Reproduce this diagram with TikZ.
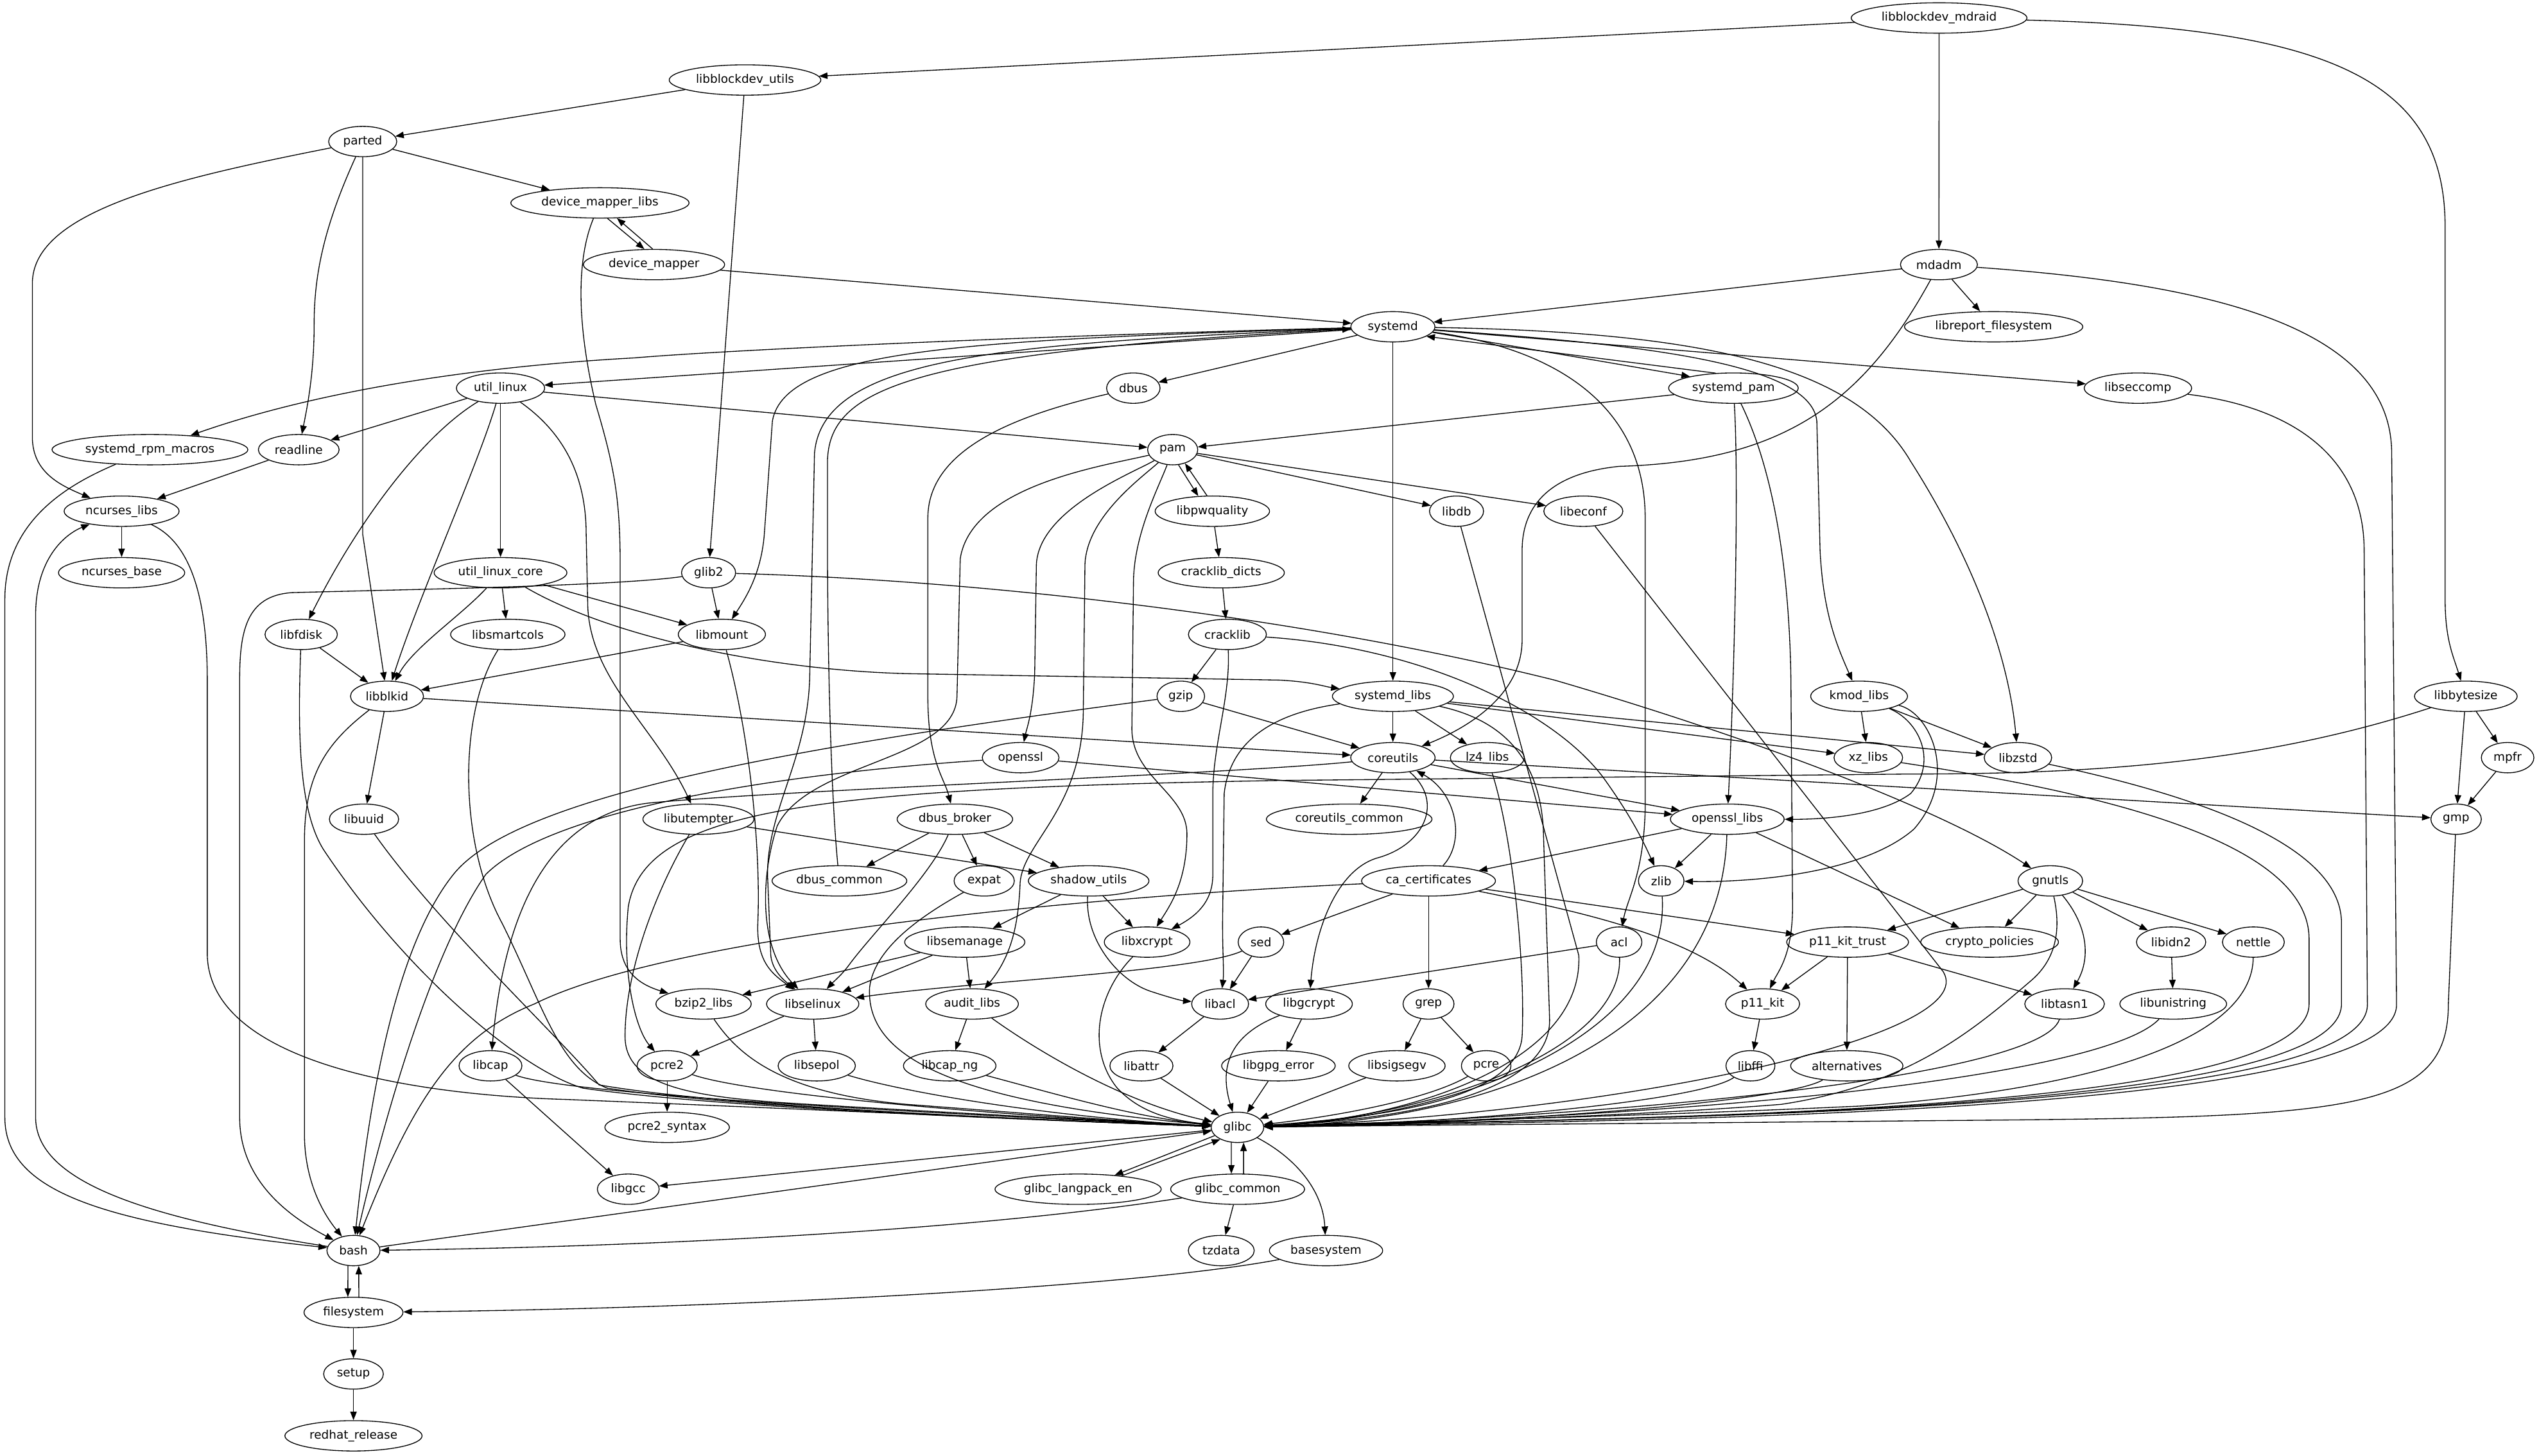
\documentclass[tikz,border=0pt]{standalone}
\usepackage{fontspec}
\setmainfont{DejaVu Sans}
\usetikzlibrary{arrows.meta,shapes.geometric}
\newcommand{\gvf}{\fontsize{6.24pt}{7.5pt}\selectfont}
\begin{document}
\begin{tikzpicture}[x=0.03cm,y=-0.03cm,
  gvn/.style={draw,ellipse,line width=0.45pt,inner xsep=2.4pt,inner ysep=0pt,minimum height=16pt,minimum width=24pt,font=\gvf},
  gve/.style={draw,line width=0.45pt,-{Triangle[length=4.5pt,width=3.4pt]}}]
\useasboundingbox (0,0) rectangle (1568,899);
% nodes
\node[gvn] (mdraid) at (1197.5,11.1) {libblockdev\_mdraid};
\node[gvn] (bdutils) at (460.1,49.4) {libblockdev\_utils};
\node[gvn] (parted) at (224,87.4) {parted};
\node[gvn] (dml) at (370.5,125.3) {device\_mapper\_libs};
\node[gvn] (dm) at (403.9,163.4) {device\_mapper};
\node[gvn] (mdadm) at (1197.4,163.4) {mdadm};
\node[gvn] (libreport) at (1231.2,201.8) {libreport\_filesystem};
\node[gvn] (systemd) at (860.2,201.8) {systemd};
\node[gvn] (utillinux) at (309.1,239.7) {util\_linux};
\node[gvn] (dbus) at (699.9,239.7) {dbus};
\node[gvn] (systemdpam) at (1070.5,239.7) {systemd\_pam};
\node[gvn] (libseccomp) at (1320.3,239.7) {libseccomp};
\node[gvn] (rpmmacros) at (92.6,277.7) {systemd\_rpm\_macros};
\node[gvn] (readline) at (184.5,277.7) {readline};
\node[gvn] (pam) at (724.2,277.7) {pam};
\node[gvn] (ncursesl) at (75.1,315.7) {ncurses\_libs};
\node[gvn] (libpwq) at (748.7,315.7) {libpwquality};
\node[gvn] (libdb) at (899.5,315.7) {libdb};
\node[gvn] (libeconf) at (977.8,315.7) {libeconf};
\node[gvn] (ncursesb) at (75.1,353.7) {ncurses\_base};
\node[gvn] (ulcore) at (309.1,353.7) {util\_linux\_core};
\node[gvn] (glib2) at (437.6,353.7) {glib2};
\node[gvn] (crackd) at (754.2,353.7) {cracklib\_dicts};
\node[gvn] (libfdisk) at (186,391.8) {libfdisk};
\node[gvn] (libsmartcols) at (313.6,391.8) {libsmartcols};
\node[gvn] (libmount) at (445.8,391.8) {libmount};
\node[gvn] (cracklib) at (758,391.8) {cracklib};
\node[gvn] (libblkid) at (239,430) {libblkid};
\node[gvn] (gzip) at (729.2,430) {gzip};
\node[gvn] (systemdlibs) at (860.2,430) {systemd\_libs};
\node[gvn] (kmod) at (1148.1,430) {kmod\_libs};
\node[gvn] (libbytesize) at (1522.8,430) {libbytesize};
\node[gvn] (openssl) at (630.3,467.9) {openssl};
\node[gvn] (coreutils) at (860.2,467.9) {coreutils};
\node[gvn] (lz4) at (918.5,467.9) {lz4\_libs};
\node[gvn] (xz) at (1153.8,467.9) {xz\_libs};
\node[gvn] (libzstd) at (1246.2,467.9) {libzstd};
\node[gvn] (mpfr) at (1548.6,467.9) {mpfr};
\node[gvn] (libuuid) at (224.8,505.9) {libuuid};
\node[gvn] (libutempter) at (431.3,505.9) {libutempter};
\node[gvn] (dbusbroker) at (589.7,505.9) {dbus\_broker};
\node[gvn] (cucommon) at (833.2,505.9) {coreutils\_common};
\node[gvn] (ossllibs) at (1066.7,505.9) {openssl\_libs};
\node[gvn] (gmp) at (1516.8,505.9) {gmp};
\node[gvn] (dbuscommon) at (518.4,544) {dbus\_common};
\node[gvn] (expat) at (607.8,544) {expat};
\node[gvn] (shadow) at (672.3,544) {shadow\_utils};
\node[gvn] (cacerts) at (882.2,544) {ca\_certificates};
\node[gvn] (zlib) at (1025.9,544) {zlib};
\node[gvn] (gnutls) at (1266.2,544) {gnutls};
\node[gvn] (libsemanage) at (595.8,581.8) {libsemanage};
\node[gvn] (libxcrypt) at (708.4,581.8) {libxcrypt};
\node[gvn] (sed) at (778.7,581.8) {sed};
\node[gvn] (acl) at (999.9,581.8) {acl};
\node[gvn] (p11trust) at (1141,581.8) {p11\_kit\_trust};
\node[gvn] (cryptopol) at (1228.7,581.8) {crypto\_policies};
\node[gvn] (libidn2) at (1340.8,581.8) {libidn2};
\node[gvn] (nettle) at (1391.6,581.8) {nettle};
\node[gvn] (bzip2) at (434.5,620) {bzip2\_libs};
\node[gvn] (libselinux) at (501.9,620) {libselinux};
\node[gvn] (audit) at (600.3,620) {audit\_libs};
\node[gvn] (libacl) at (753.5,620) {libacl};
\node[gvn] (libgcrypt) at (808.4,620) {libgcrypt};
\node[gvn] (grep) at (882.2,620) {grep};
\node[gvn] (p11kit) at (1088.5,620) {p11\_kit};
\node[gvn] (libtasn1) at (1275,620) {libtasn1};
\node[gvn] (libunistring) at (1342.1,620) {libunistring};
\node[gvn] (libcap) at (302.9,658.2) {libcap};
\node[gvn] (pcre2) at (412,658.2) {pcre2};
\node[gvn] (libsepol) at (504.4,658.2) {libsepol};
\node[gvn] (libcapng) at (586.5,658.2) {libcap\_ng};
\node[gvn] (libattr) at (704.9,658.2) {libattr};
\node[gvn] (libgpgerr) at (789.5,658.2) {libgpg\_error};
\node[gvn] (libsigsegv) at (862.7,658.2) {libsigsegv};
\node[gvn] (pcre) at (917.8,658.2) {pcre};
\node[gvn] (libffi) at (1081,658.2) {libffi};
\node[gvn] (alternatives) at (1140.5,658.2) {alternatives};
\node[gvn] (pcre2syn) at (412,696.2) {pcre2\_syntax};
\node[gvn] (glibc) at (764.2,696.2) {glibc};
\node[gvn] (libgcc) at (388,734.4) {libgcc};
\node[gvn] (langpack) at (665.8,734.4) {glibc\_langpack\_en};
\node[gvn] (glibccommon) at (764.3,734.4) {glibc\_common};
\node[gvn] (bash) at (218.3,772.3) {bash};
\node[gvn] (tzdata) at (754.2,772.3) {tzdata};
\node[gvn] (basesystem) at (818.9,772.3) {basesystem};
\node[gvn] (filesystem) at (218.3,810.5) {filesystem};
\node[gvn] (setup) at (218.3,848.5) {setup};
\node[gvn] (redhat) at (218.3,886.7) {redhat\_release};
% edges: top
\draw[gve] (mdraid) -- (bdutils);
\draw[gve] (mdraid) -- (mdadm);
\draw[gve] (mdraid) .. controls (1440,17) and (1510,50) .. (1510,140) -- (1510,370) .. controls (1510,395) and (1515,405) .. (libbytesize);
\draw[gve] (bdutils) -- (parted);
\draw[gve] (bdutils) -- (glib2);
\draw[gve] (parted) -- (dml);
\draw[gve] (parted) .. controls (200,140) and (194,170) .. (194,200) .. controls (194,230) and (190,250) .. (readline);
\draw[gve] (parted) -- (224,330) -- (libblkid);
\draw[gve] (parted) .. controls (110,110) and (20,130) .. (20,175) -- (20,270) .. controls (20,292) and (38,300) .. (ncursesl);
\draw[gve] (dml.-64) -- (dm.122);
\draw[gve] (dm.95) -- (dml.-42);
\draw[gve] (dml) .. controls (356,160) and (356,200) .. (368,250) .. controls (380,290) and (383,310) .. (383,350) -- (383,580) .. controls (383,600) and (395,608) .. (bzip2);
\draw[gve] (dm) -- (systemd);
\draw[gve] (mdadm) -- (systemd);
\draw[gve] (mdadm) -- (libreport);
\draw[gve] (mdadm) .. controls (1360,175) and (1477,200) .. (1477,280) -- (1480,620) .. controls (1482,690) and (1000,692) .. (glibc);
\draw[gve] (mdadm) .. controls (1150,250) and (1100,285) .. (1000,288) .. controls (960,292) and (940,310) .. (940,340) -- (940,395) .. controls (940,430) and (905,450) .. (coreutils);
% systemd
\draw[gve] (systemd) .. controls (650,207) and (450,216) .. (392,221) .. controls (300,226) and (200,240) .. (rpmmacros);
\draw[gve] (systemd) -- (utillinux);
\draw[gve] (systemd) -- (dbus);
\draw[gve] (systemd.-8) -- (systemdpam.165);
\draw[gve] (systemdpam.140) -- (systemd.-16);
\draw[gve] (systemd) -- (libseccomp);
\draw[gve] (systemd) -- (systemdlibs);
\draw[gve] (systemd) .. controls (960,215) and (1016,250) .. (1016,320) -- (1016,500) .. controls (1015,540) and (1005,555) .. (acl);
\draw[gve] (systemd) .. controls (1000,212) and (1118,222) .. (1122,260) -- (1124,340) .. controls (1126,380) and (1135,400) .. (kmod);
\draw[gve] (systemd) .. controls (1050,205) and (1145,225) .. (1180,285) .. controls (1215,340) and (1240,400) .. (libzstd);
\draw[gve] (systemd) .. controls (600,210) and (485,215) .. (477,260) -- (472,330) .. controls (470,355) and (460,370) .. (libmount);
\draw[gve] (systemd) .. controls (620,212) and (508,220) .. (503,280) -- (500,420) .. controls (498,470) and (474,500) .. (474,540) -- (476,590) .. controls (477,600) and (485,606) .. (libselinux);
\draw[gve] (dbuscommon) .. controls (513,490) and (511,400) .. (511,330) -- (511,285) .. controls (512,240) and (560,218) .. (systemd);
% util_linux
\draw[gve] (utillinux) -- (readline);
\draw[gve] (utillinux) -- (pam);
\draw[gve] (utillinux) .. controls (262,268) and (222,320) .. (libfdisk);
\draw[gve] (utillinux) .. controls (296,285) and (258,370) .. (libblkid);
\draw[gve] (utillinux) -- (ulcore);
\draw[gve] (utillinux) .. controls (345,265) and (362,290) .. (362,330) -- (363,375) .. controls (365,420) and (405,450) .. (libutempter);
% left column
\draw[gve] (rpmmacros) .. controls (45,298) and (3,320) .. (3,370) -- (3,690) .. controls (3,735) and (60,755) .. (bash);
\draw[gve] (readline) -- (ncursesl);
\draw[gve] (ncursesl) -- (ncursesb);
\draw[gve] (bash) .. controls (90,752) and (22,730) .. (22,690) -- (22,380) .. controls (22,345) and (40,330) .. (ncursesl);
\draw[gve] (ncursesl) .. controls (118,335) and (128,370) .. (128,420) -- (128,590) .. controls (130,655) and (250,676) .. (350,679) .. controls (500,685) and (650,692) .. (glibc);
% pam
\draw[gve] (pam.-69) -- (libpwq.133);
\draw[gve] (libpwq.109) -- (pam.-48);
\draw[gve] (pam) -- (libdb);
\draw[gve] (pam) -- (libeconf);
\draw[gve] (pam) .. controls (680,288) and (600,300) .. (593,345) -- (591,430) .. controls (590,470) and (500,470) .. (480,510) .. controls (470,540) and (468,585) .. (libselinux);
\draw[gve] (pam) .. controls (700,292) and (640,315) .. (640,350) -- (639,415) .. controls (638,440) and (634,450) .. (openssl);
\draw[gve] (pam) .. controls (705,295) and (670,320) .. (670,350) -- (669,440) .. controls (668,500) and (632,520) .. (630,545) .. controls (629,570) and (625,590) .. (audit);
\draw[gve] (pam) .. controls (716,300) and (700,330) .. (700,360) -- (699,450) .. controls (699,480) and (733,490) .. (733,515) .. controls (733,545) and (722,560) .. (libxcrypt);
\draw[gve] (dbus) .. controls (620,258) and (573,280) .. (573,320) -- (573,430) .. controls (573,470) and (583,480) .. (dbusbroker);
% systemd_pam, seccomp, libdb, libeconf
\draw[gve] (systemdpam) -- (pam);
\draw[gve] (systemdpam) .. controls (1074,300) and (1071,420) .. (ossllibs);
\draw[gve] (systemdpam) .. controls (1095,290) and (1105,350) .. (1106,420) -- (1107,560) .. controls (1107,590) and (1098,600) .. (p11kit);
\draw[gve] (libseccomp) .. controls (1420,252) and (1460,285) .. (1460,340) -- (1462,620) .. controls (1464,690) and (1000,690) .. (glibc);
\draw[gve] (libdb) -- (975,590) .. controls (978,660) and (860,692) .. (glibc);
\draw[gve] (libeconf) -- (1200,600) .. controls (1225,640) and (1000,688) .. (glibc);
% middle
\draw[gve] (libpwq) -- (crackd);
\draw[gve] (crackd) -- (cracklib);
\draw[gve] (ulcore) -- (libsmartcols);
\draw[gve] (ulcore) .. controls (285,380) and (255,400) .. (libblkid);
\draw[gve] (ulcore) -- (libmount);
\draw[gve] (ulcore) .. controls (380,395) and (480,414) .. (560,416) -- (790,420) .. controls (810,421) and (818,424) .. (systemdlibs);
\draw[gve] (glib2) -- (libmount);
\draw[gve] (glib2) .. controls (380,362) and (250,364) .. (180,366) .. controls (152,368) and (148,390) .. (148,420) -- (148,690) .. controls (148,730) and (180,752) .. (bash);
\draw[gve] (glib2) .. controls (600,358) and (800,380) .. (960,420) .. controls (1080,455) and (1200,500) .. (gnutls);
\draw[gve] (libfdisk) -- (libblkid);
\draw[gve] (libfdisk) .. controls (184,450) and (184,500) .. (200,525) .. controls (250,600) and (320,660) .. (360,672) .. controls (450,685) and (650,692) .. (glibc);
\draw[gve] (libsmartcols) .. controls (283,440) and (283,520) .. (310,570) .. controls (335,620) and (345,660) .. (375,672) .. controls (450,684) and (650,692) .. (glibc);
\draw[gve] (libmount) -- (libblkid);
\draw[gve] (libmount) .. controls (462,450) and (470,520) .. (468,570) .. controls (467,595) and (478,602) .. (libselinux);
\draw[gve] (cracklib) -- (gzip);
\draw[gve] (cracklib) .. controls (880,400) and (960,440) .. (990,480) .. controls (1008,505) and (1015,520) .. (zlib);
\draw[gve] (cracklib) .. controls (760,430) and (749,460) .. (749,490) -- (749,540) .. controls (749,556) and (740,565) .. (libxcrypt);
\draw[gve] (libblkid) -- (libuuid);
\draw[gve] (libblkid) .. controls (200,460) and (188,480) .. (188,520) -- (188,700) .. controls (188,730) and (200,750) .. (bash);
\draw[gve] (libblkid) -- (coreutils);
\draw[gve] (libuuid) .. controls (270,570) and (345,640) .. (370,670) .. controls (450,684) and (650,692) .. (glibc);
\draw[gve] (gzip) .. controls (500,460) and (320,490) .. (280,540) .. controls (240,590) and (226,700) .. (bash);
\draw[gve] (gzip) -- (coreutils);
\draw[gve] (systemdlibs) -- (coreutils);
\draw[gve] (systemdlibs) -- (lz4);
\draw[gve] (systemdlibs) -- (xz);
\draw[gve] (systemdlibs) -- (libzstd);
\draw[gve] (systemdlibs) .. controls (790,440) and (760,455) .. (756,490) -- (755,570) .. controls (755,590) and (756,600) .. (libacl);
\draw[gve] (systemdlibs) .. controls (930,445) and (950,470) .. (953,510) -- (957,630) .. controls (957,680) and (850,692) .. (glibc);
\draw[gve] (kmod) -- (xz);
\draw[gve] (kmod) -- (libzstd);
\draw[gve] (kmod) .. controls (1185,445) and (1197,470) .. (1180,490) .. controls (1160,505) and (1120,506) .. (ossllibs);
\draw[gve] (kmod) .. controls (1192,440) and (1210,480) .. (1182,512) .. controls (1150,540) and (1080,545) .. (zlib);
\draw[gve] (libbytesize) -- (mpfr);
\draw[gve] (libbytesize) -- (gmp);
\draw[gve] (libbytesize) .. controls (1400,470) and (1300,478) .. (1180,478) -- (790,482) .. controls (500,487) and (398,500) .. (388,560) .. controls (384,600) and (392,635) .. (pcre2);
\draw[gve] (openssl) -- (ossllibs);
\draw[gve] (openssl) .. controls (480,478) and (340,500) .. (300,540) .. controls (265,590) and (235,700) .. (bash);
\draw[gve] (coreutils) -- (cucommon);
\draw[gve] (coreutils) -- (ossllibs);
\draw[gve] (coreutils) -- (gmp);
\draw[gve] (coreutils) .. controls (760,478) and (480,488) .. (400,496) .. controls (330,505) and (310,580) .. (libcap);
\draw[gve] (coreutils) .. controls (892,495) and (880,522) .. (850,530) .. controls (825,538) and (812,575) .. (libgcrypt);
\draw[gve] (lz4) .. controls (935,520) and (942,600) .. (940,640) .. controls (937,680) and (850,690) .. (glibc);
\draw[gve] (xz) .. controls (1300,490) and (1426,520) .. (1426,580) -- (1426,620) .. controls (1426,690) and (1000,690) .. (glibc);
\draw[gve] (libzstd) .. controls (1350,490) and (1446,520) .. (1446,570) -- (1446,620) .. controls (1446,690) and (1000,690) .. (glibc);
\draw[gve] (mpfr) -- (gmp);
\draw[gve] (gmp) -- (1512,620) .. controls (1512,688) and (1450,690) .. (1200,692) .. controls (1000,694) and (850,695) .. (glibc);
\draw[gve] (libutempter) -- (shadow);
\draw[gve] (libutempter) .. controls (405,550) and (386,600) .. (386,640) .. controls (386,672) and (430,678) .. (500,682) .. controls (600,688) and (700,693) .. (glibc);
\draw[gve] (dbusbroker) -- (dbuscommon);
\draw[gve] (dbusbroker) -- (expat);
\draw[gve] (dbusbroker) -- (shadow);
\draw[gve] (dbusbroker) .. controls (575,540) and (540,575) .. (525,595) .. controls (520,602) and (515,606) .. (libselinux);
\draw[gve] (expat) .. controls (570,565) and (540,585) .. (537,610) .. controls (535,650) and (580,680) .. (glibc);
\draw[gve] (ossllibs) -- (cacerts);
\draw[gve] (ossllibs) -- (zlib);
\draw[gve] (ossllibs) -- (cryptopol);
\draw[gve] (ossllibs) .. controls (1063,640) and (920,692) .. (glibc);
\draw[gve] (shadow) -- (libsemanage);
\draw[gve] (shadow) -- (libxcrypt);
\draw[gve] (shadow) .. controls (670,580) and (690,605) .. (710,612) .. controls (722,616) and (730,618) .. (libacl);
\draw[gve] (cacerts) .. controls (905,520) and (900,490) .. (coreutils);
\draw[gve] (cacerts) .. controls (700,552) and (420,575) .. (330,620) .. controls (280,640) and (255,680) .. (bash);
\draw[gve] (cacerts) -- (sed);
\draw[gve] (cacerts) -- (grep);
\draw[gve] (cacerts) -- (p11trust);
\draw[gve] (cacerts) .. controls (960,560) and (1040,575) .. (p11kit);
\draw[gve] (zlib) .. controls (1032,640) and (900,690) .. (glibc);
\draw[gve] (gnutls) -- (p11trust);
\draw[gve] (gnutls) -- (cryptopol);
\draw[gve] (gnutls) -- (libidn2);
\draw[gve] (gnutls) -- (nettle);
\draw[gve] (gnutls) .. controls (1288,570) and (1292,590) .. (libtasn1);
\draw[gve] (gnutls) .. controls (1272,570) and (1272,590) .. (1255,605) .. controls (1220,635) and (1180,670) .. (1100,682) .. controls (1000,690) and (850,694) .. (glibc);
\draw[gve] (libsemanage) -- (libselinux);
\draw[gve] (libsemanage) -- (audit);
\draw[gve] (libsemanage) -- (bzip2);
\draw[gve] (libxcrypt) .. controls (676,615) and (672,650) .. (690,672) .. controls (705,688) and (725,692) .. (glibc);
\draw[gve] (sed) -- (libacl);
\draw[gve] (sed) .. controls (740,600) and (600,606) .. (libselinux);
\draw[gve] (acl) -- (libacl);
\draw[gve] (acl) .. controls (1002,650) and (880,690) .. (glibc);
\draw[gve] (p11trust) -- (p11kit);
\draw[gve] (p11trust) -- (alternatives);
\draw[gve] (p11trust) -- (libtasn1);
\draw[gve] (libidn2) -- (libunistring);
\draw[gve] (nettle) .. controls (1391,640) and (1300,672) .. (1150,683) .. controls (1000,690) and (850,693) .. (glibc);
\draw[gve] (bzip2) .. controls (455,650) and (480,675) .. (560,682) .. controls (640,688) and (700,693) .. (glibc);
\draw[gve] (libselinux) -- (pcre2);
\draw[gve] (libselinux) -- (libsepol);
\draw[gve] (audit) -- (libcapng);
\draw[gve] (audit) .. controls (635,645) and (690,680) .. (glibc);
\draw[gve] (libacl) -- (libattr);
\draw[gve] (libgcrypt) -- (libgpgerr);
\draw[gve] (libgcrypt) .. controls (770,635) and (750,650) .. (glibc);
\draw[gve] (grep) -- (libsigsegv);
\draw[gve] (grep) -- (pcre);
\draw[gve] (p11kit) -- (libffi);
\draw[gve] (libtasn1) .. controls (1260,665) and (1000,690) .. (glibc);
\draw[gve] (libunistring) .. controls (1300,665) and (1050,690) .. (glibc);
\draw[gve] (libcap) -- (libgcc);
\draw[gve] (libcap) .. controls (340,672) and (450,682) .. (glibc);
\draw[gve] (pcre2) -- (pcre2syn);
\draw[gve] (pcre2) .. controls (460,675) and (600,688) .. (glibc);
\draw[gve] (libsepol) .. controls (560,675) and (650,690) .. (glibc);
\draw[gve] (libcapng) .. controls (650,675) and (700,690) .. (glibc);
\draw[gve] (libattr) -- (glibc);
\draw[gve] (libgpgerr) -- (glibc);
\draw[gve] (libsigsegv) -- (glibc);
\draw[gve] (pcre) .. controls (880,680) and (820,690) .. (glibc);
\draw[gve] (libffi) .. controls (1050,680) and (900,694) .. (glibc);
\draw[gve] (alternatives) .. controls (1100,682) and (900,695) .. (glibc);
% bottom
\draw[gve] (glibc) -- (libgcc);
\draw[gve] (bash) -- (glibc);
\draw[gve] (glibc.200) -- (langpack.21);
\draw[gve] (langpack.17) -- (glibc.215);
\draw[gve] (glibc.248) -- (glibccommon.112);
\draw[gve] (glibccommon.69) -- (glibc.292);
\draw[gve] (glibc) .. controls (800,715) and (817,735) .. (basesystem);
\draw[gve] (glibccommon) .. controls (600,760) and (400,770) .. (bash);
\draw[gve] (glibccommon) -- (tzdata);
\draw[gve] (basesystem) .. controls (700,795) and (450,808) .. (filesystem);
\draw[gve] (bash.250) -- (filesystem.110);
\draw[gve] (filesystem.71) -- (bash.289);
\draw[gve] (filesystem) -- (setup);
\draw[gve] (setup) -- (redhat);
\end{tikzpicture}
\end{document}
